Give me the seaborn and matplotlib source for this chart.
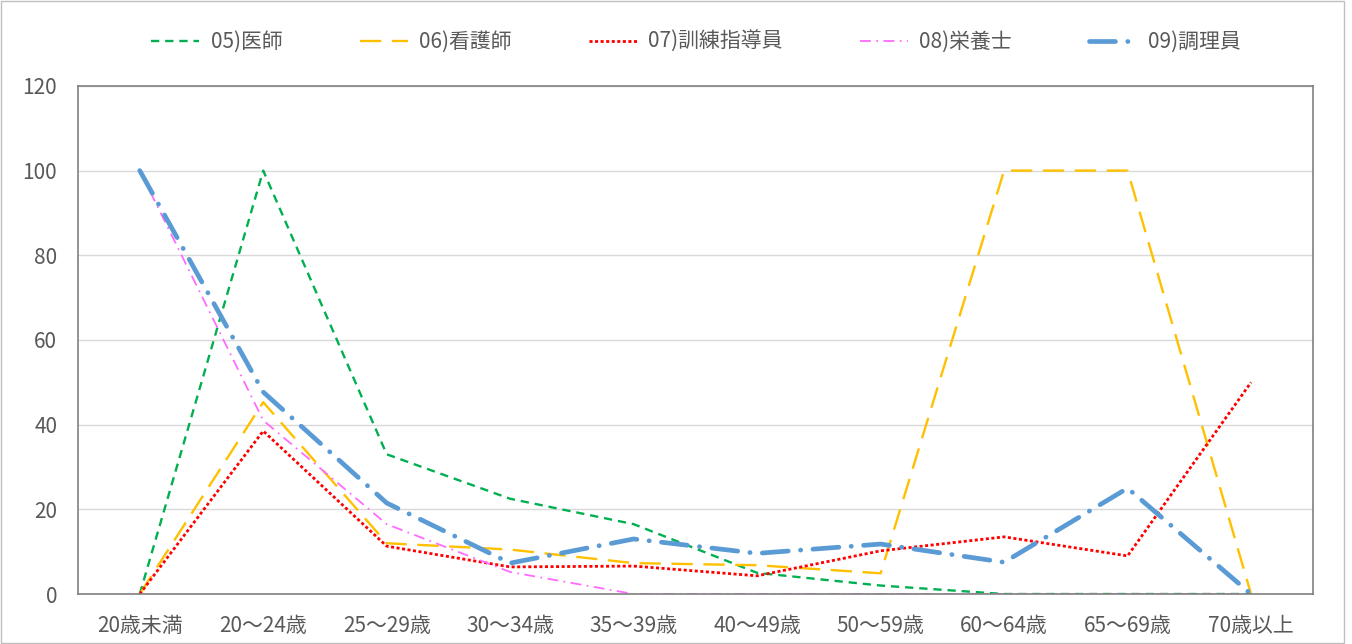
import pandas as pd
import matplotlib.pyplot as plt
import seaborn as sns

# ---------------------------------------------------------
# data
# ---------------------------------------------------------
age_groups = ["20歳未満", "20～24歳", "25～29歳", "30～34歳", "35～39歳",
              "40～49歳", "50～59歳", "60～64歳", "65～69歳", "70歳以上"]

doctor = [0, 100, 33, 22.5, 16.5, 5, 2, 0, 0, 0]
nurse = [0, 45.3, 12, 10.5, 7.3, 6.8, 4.9, 100, 100, 0]
trainer = [0, 38.5, 11.3, 6.4, 6.6, 4.3, 10.2, 13.5, 9, 50]
dietitian = [100, 41, 16.5, 5.2, 0, 0, 0, 0, 0, 0]
cook = [100, 47.7, 21.5, 7.3, 13, 9.6, 11.8, 7.5, 25, 0]

series_names = ["05)医師", "06)看護師", "07)訓練指導員", "08)栄養士", "09)調理員"]
series_values = [doctor, nurse, trainer, dietitian, cook]

# ---------------------------------------------------------
# styles
# ---------------------------------------------------------
colors = ["#00B050", "#FFC000", "#FF0000", "#FF6BFF", "#5B9BD5"]
widths = [1.7, 1.7, 2.0, 1.3, 3.4]
dash_patterns = [(3.5, 2.5), (9, 4.5), (1.1, 0.9), (6, 3, 1, 3), (5.5, 2.6, 0.05, 2.6)]
FS = 15

sns.set_theme(style="white")
plt.rcParams["font.family"] = ["Noto Sans CJK JP", "DejaVu Sans"]

rows = []
for name, vals in zip(series_names, series_values):
    for i, v in enumerate(vals):
        rows.append({"series": name, "pos": i, "value": v})
df = pd.DataFrame(rows)

fig = plt.figure(figsize=(13.52, 6.44), dpi=100)
ax = fig.add_axes([0.0577, 0.0776, 0.9133, 0.789])

for name, col, lw, dp in zip(series_names, colors, widths, dash_patterns):
    sub = df[df["series"] == name]
    sns.lineplot(data=sub, x="pos", y="value", ax=ax, color=col, linewidth=lw,
                 label=name, dashes=False)
    line = ax.get_lines()[-1]
    line.set_dashes(dp)
    if name == "09)調理員":
        line.set_dash_capstyle("round")

ax.set_xlim(-0.5, 9.5)
ax.set_ylim(0, 120)
ax.set_yticks(range(0, 121, 20))
ax.set_xticks(range(len(age_groups)))
ax.set_xticklabels(age_groups)
ax.set_xlabel("")
ax.set_ylabel("")
ax.yaxis.grid(True, color="#D9D9D9", linewidth=1)
ax.set_axisbelow(True)
ax.tick_params(axis="both", length=0, labelsize=FS, labelcolor="#595959")
ax.tick_params(axis="x", pad=15)
ax.tick_params(axis="y", pad=15)
for s in ax.spines.values():
    s.set_visible(True)
    s.set_color("#808080")
    s.set_linewidth(1.2)

ax.get_legend().remove()
handles, labels = ax.get_legend_handles_labels()
leg = fig.legend(handles, labels, loc="center", bbox_to_anchor=(0.515, 0.935),
                 ncol=5, frameon=False, fontsize=FS, handlelength=2.3,
                 columnspacing=3.7, handletextpad=0.55)
for t in leg.get_texts():
    t.set_color("#595959")

# chart area border
fig.patches.append(plt.Rectangle((0.001, 0.001), 0.993, 0.998, transform=fig.transFigure,
                                 fill=False, edgecolor="#BFBFBF", linewidth=1))

fig.savefig("out.png", dpi=100)
